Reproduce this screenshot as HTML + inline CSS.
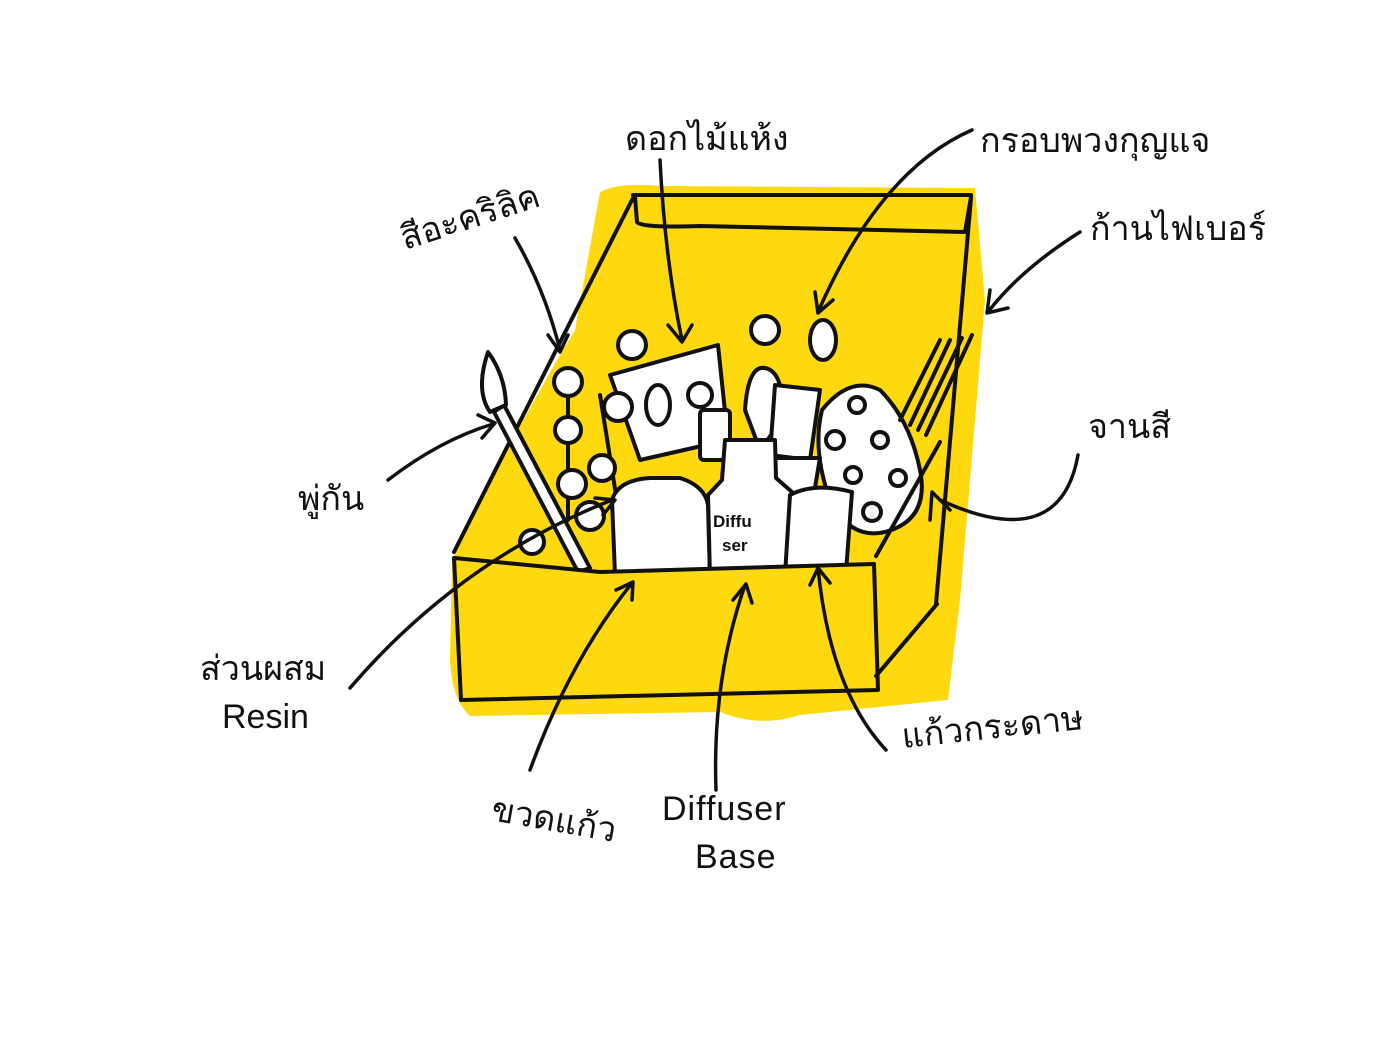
<!DOCTYPE html>
<html><head><meta charset="utf-8"><style>
html,body{margin:0;padding:0;background:#fff}
svg{display:block}
text{font-family:"Liberation Sans","DejaVu Sans",sans-serif;fill:#111}
</style></head><body>
<svg width="1400" height="1050" viewBox="0 0 1400 1050" xmlns="http://www.w3.org/2000/svg">
<path d="M600,192 Q620,182 660,186 L975,188 L985,300 L960,600 L948,700 L800,715 Q760,728 720,712 L470,716 Q452,700 450,660 L452,560 Q520,420 575,330 Z" fill="#FFD90F"/>
<g fill="none" stroke="#111" stroke-width="4" stroke-linecap="round" stroke-linejoin="round">
<path d="M633,195 L971,195"/>
<path d="M635,197 L637,222 Q640,228 700,226 L965,232 L971,197"/>
<path d="M633,198 L454,552"/>
<path d="M971,198 L936,604"/>
</g>
<g stroke="#111" stroke-width="4" fill="#fff" stroke-linecap="round" stroke-linejoin="round">
<path d="M610,375 L718,345 L728,440 L640,460 Z"/>
<ellipse cx="658" cy="405" rx="12" ry="20"/>
<circle cx="700" cy="395" r="12"/>
<path d="M568,385 L568,520 M600,395 L620,520" fill="none"/>
<circle cx="632" cy="345" r="14"/>
<circle cx="568" cy="382" r="14"/>
<circle cx="568" cy="430" r="13"/>
<circle cx="572" cy="484" r="14"/>
<circle cx="618" cy="407" r="14"/>
<circle cx="602" cy="468" r="13"/>
<circle cx="590" cy="516" r="14"/>
<circle cx="532" cy="542" r="12"/>
<path d="M504,405 L590,568 L578,572 L494,412 Z"/>
<path d="M488,352 Q505,375 506,405 L490,412 Q475,390 488,352 Z"/>
<circle cx="765" cy="330" r="14"/>
<ellipse cx="823" cy="340" rx="13" ry="20"/>
<path d="M745,410 Q748,365 765,368 Q785,372 782,420 L760,450 Z"/>
<path d="M775,385 L820,390 L810,460 L770,455 Z"/>
<rect x="700" y="410" width="30" height="50" rx="4"/>
<path d="M822,410 Q850,375 880,390 Q910,420 920,470 Q930,520 885,532 Q850,540 830,500 Q812,450 822,410 Z"/>
<circle cx="857" cy="405" r="8"/><circle cx="835" cy="440" r="9"/><circle cx="880" cy="440" r="8"/>
<circle cx="853" cy="475" r="8"/><circle cx="898" cy="478" r="8"/><circle cx="872" cy="512" r="9"/>
<path d="M900,420 L940,340 M910,425 L950,340 M918,430 L962,338 M926,435 L972,335" fill="none"/>
<path d="M760,458 L820,458 L812,505 L768,505 Z"/>
<path d="M612,500 Q618,480 650,478 L680,478 Q705,486 708,505 L710,575 L615,575 Z"/>
<path d="M725,440 L775,440 L776,478 L792,492 L792,575 L710,578 L708,495 L722,480 Z"/>
<path d="M790,495 Q815,482 852,492 L846,572 L785,575 Z"/>
</g>
<g fill="none" stroke="#111" stroke-width="4" stroke-linecap="round" stroke-linejoin="round">
<path d="M454,558 L600,572 L874,564 L878,690 L461,700 Z" fill="#FFD90F"/>
<path d="M876,676 L937,604"/>
<path d="M876,556 L940,442"/>
</g>
<text x="713" y="527" font-size="17" font-weight="bold">Diffu</text>
<text x="722" y="551" font-size="17" font-weight="bold">ser</text>
<g fill="none" stroke="#111" stroke-width="3.5" stroke-linecap="round" stroke-linejoin="round">
<path d="M660,160 Q665,260 682,340"/><path d="M668,325 L682,342 L692,325"/>
<path d="M972,130 Q880,170 818,312"/><path d="M815,292 L818,313 L833,300"/>
<path d="M1080,232 Q1020,270 988,312"/><path d="M990,290 L987,313 L1008,308"/>
<path d="M515,238 Q545,290 560,350"/><path d="M548,335 L560,352 L568,335"/>
<path d="M1078,455 Q1060,555 940,500"/><path d="M930,520 L932,492 L950,510"/>
<path d="M388,480 Q440,440 493,424"/><path d="M478,415 L495,423 L482,438"/>
<path d="M350,688 Q460,560 612,500"/><path d="M595,498 L615,500 L603,515"/>
<path d="M530,770 Q570,660 632,583"/><path d="M616,590 L633,582 L632,600"/>
<path d="M716,790 Q712,680 745,585"/><path d="M733,600 L746,584 L752,603"/>
<path d="M886,750 Q830,690 818,568"/><path d="M810,585 L818,568 L830,583"/>
</g>
<g font-size="34">
<text x="625" y="150">ดอกไม้แห้ง</text>
<text x="980" y="152">กรอบพวงกุญแจ</text>
<text x="1090" y="240">ก้านไฟเบอร์</text>
<text x="405" y="250" transform="rotate(-18 405 250)">สีอะคริลิค</text>
<text x="1088" y="438">จานสี</text>
<text x="298" y="510">พู่กัน</text>
<text x="200" y="680">ส่วนผสม</text>
<text x="222" y="728">Resin</text>
<text x="490" y="820" transform="rotate(10 490 820)">ขวดแก้ว</text>
<text x="662" y="820" letter-spacing="1">Diffuser</text>
<text x="695" y="868" letter-spacing="1">Base</text>
<text x="903" y="748" transform="rotate(-6 903 748)">แก้วกระดาษ</text>
</g>
</svg>
</body></html>
